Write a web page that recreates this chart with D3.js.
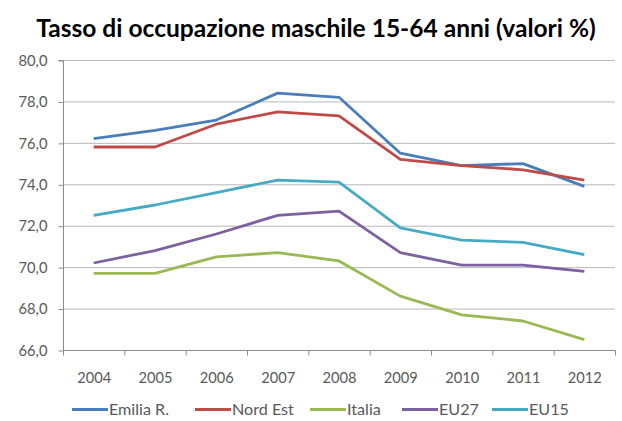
<!DOCTYPE html>
<html>
<head>
<meta charset="utf-8">
<script src="https://cdn.jsdelivr.net/npm/d3@7"></script>
<style>
  html, body { margin: 0; padding: 0; background: #fff; }
  svg { display: block; }
</style>
</head>
<body>
<svg id="chart" width="622" height="421"></svg>
<script>
// Male employment rate, ages 15-64 (%)
const years = ["2004", "2005", "2006", "2007", "2008", "2009", "2010", "2011", "2012"];
const seriesNames = ["Emilia R.", "Nord Est", "Italia", "EU27", "EU15"];
const emiliaR = [76.2, 76.6, 77.1, 78.4, 78.2, 75.5, 74.9, 75.0, 73.9];
const nordEst = [75.8, 75.8, 76.9, 77.5, 77.3, 75.2, 74.9, 74.7, 74.2];
const italia  = [69.7, 69.7, 70.5, 70.7, 70.3, 68.6, 67.7, 67.4, 66.5];
const eu27    = [70.2, 70.8, 71.6, 72.5, 72.7, 70.7, 70.1, 70.1, 69.8];
const eu15    = [72.5, 73.0, 73.6, 74.2, 74.1, 71.9, 71.3, 71.2, 70.6];
const yTicks  = [66, 68, 70, 72, 74, 76, 78, 80];
const colors  = ["#4a7ebb", "#be4b48", "#98b954", "#7d60a0", "#46aac5"];

const allSeries = [emiliaR, nordEst, italia, eu27, eu15];

const svg = d3.select("#chart");
const font = "Lato, 'Open Sans', sans-serif";

// Font size that makes a string span the given width
function fitSize(str, weight, width) {
  const t = svg.append("text").attr("font-family", font).attr("font-weight", weight)
    .attr("font-size", 100).text(str);
  const w = t.node().getComputedTextLength();
  t.remove();
  return 100 * width / w;
}

const titleText = "Tasso di occupazione maschile 15-64 anni (valori %)";
const titleSize = fitSize(titleText, "bold", 560);
const tickSize = fitSize("80,0", "normal", 29);
const xLabelSize = fitSize("2004", "normal", 34);
const legendSize = fitSize("Emilia R.", "normal", 60);

const plotLeft = 63, plotRight = 615, plotTop = 60, plotBottom = 350;

const x = d3.scalePoint().domain(years).range([plotLeft, plotRight]).padding(0.5);
const band = (plotRight - plotLeft) / years.length;
const y = d3.scaleLinear().domain([66, 80]).range([plotBottom, plotTop]);

// Title
svg.append("text")
  .attr("x", 316).attr("y", 37)
  .attr("text-anchor", "middle")
  .attr("font-family", font)
  .attr("font-weight", "bold")
  .attr("font-size", titleSize)
  .attr("fill", "#000")
  .text(titleText);

// Horizontal gridlines
svg.append("g")
  .selectAll("line")
  .data(yTicks.filter(d => d !== 66))
  .join("line")
  .attr("x1", plotLeft).attr("x2", plotRight)
  .attr("y1", d => y(d) + 0.5).attr("y2", d => y(d) + 0.5)
  .attr("stroke", "#b8b8b8").attr("stroke-width", 1);

// Y axis
const yAxis = d3.axisLeft(y)
  .tickValues(yTicks)
  .tickSize(5)
  .tickPadding(11)
  .tickFormat(d => d3.format(".1f")(d).replace(".", ","));
const gy = svg.append("g").attr("transform", `translate(${plotLeft + 0.5},0.5)`).call(yAxis);
gy.select(".domain").attr("stroke", "#8c8c8c").attr("d", `M-5,${plotTop}H0V${plotBottom}`);
gy.selectAll(".tick line").attr("stroke", "#8c8c8c");
gy.selectAll(".tick text").attr("font-family", font).attr("font-size", tickSize).attr("fill", "#595959");

// X axis: ticks on category boundaries
const boundaries = d3.range(years.length + 1).map(i => plotLeft + i * band);
const gx = svg.append("g").attr("transform", `translate(0.5,${plotBottom + 0.5})`);
gx.append("line").attr("x1", plotLeft).attr("x2", plotRight).attr("stroke", "#8c8c8c");
gx.selectAll("line.t").data(boundaries).join("line").attr("class", "t")
  .attr("x1", d => d).attr("x2", d => d).attr("y1", 0).attr("y2", 5)
  .attr("stroke", "#8c8c8c");
gx.selectAll("text").data(years).join("text")
  .attr("x", d => x(d)).attr("y", 32)
  .attr("text-anchor", "middle")
  .attr("font-family", font).attr("font-size", xLabelSize).attr("fill", "#595959")
  .text(d => d);

// Series lines
const line = d3.line().x((d, i) => x(years[i])).y(d => y(d));
svg.append("g")
  .selectAll("path")
  .data(allSeries)
  .join("path")
  .attr("d", d => line(d))
  .attr("fill", "none")
  .attr("stroke", (d, i) => colors[i])
  .attr("stroke-width", 2.8)
  .attr("stroke-linejoin", "round");

// Legend
const legendX = [72, 195, 310, 402, 492];
const legend = svg.append("g").attr("transform", "translate(0,409.5)");
seriesNames.forEach((name, i) => {
  const g = legend.append("g").attr("transform", `translate(${legendX[i]},0)`);
  g.append("line").attr("x1", 0).attr("x2", 36).attr("y1", 0).attr("y2", 0)
    .attr("stroke", colors[i]).attr("stroke-width", 2.8);
  g.append("text").attr("x", 37).attr("y", 0).attr("dy", "0.35em")
    .attr("font-family", font).attr("font-size", legendSize).attr("fill", "#595959")
    .text(name);
});
</script>
</body>
</html>
